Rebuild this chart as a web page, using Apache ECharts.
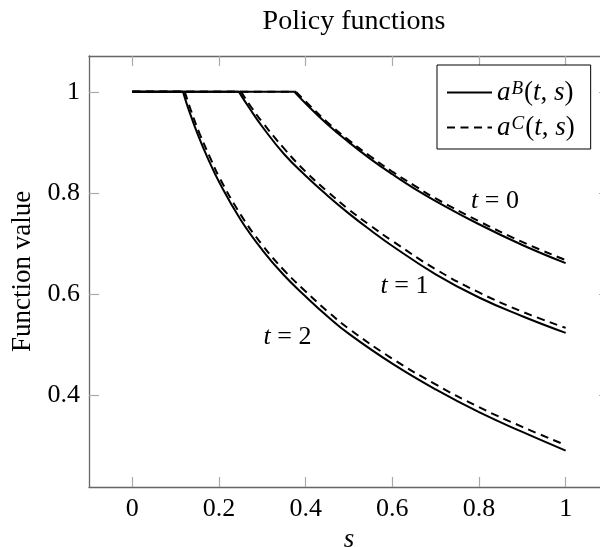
<!DOCTYPE html>
<html><head><meta charset="utf-8">
<script src="https://cdn.jsdelivr.net/npm/echarts@6/dist/echarts.min.js"></script>
<style>html,body{margin:0;padding:0;background:#fff}#c{width:600px;height:547px}</style>
</head><body><div id="c"></div>
<script>
// ---- data ----
const xTicks = [0, 0.2, 0.4, 0.6, 0.8, 1];
const yTicks = [0.4, 0.6, 0.8, 1];

// a^B(t,s) : solid
const sB_t0 = [0, 0.374, 0.4, 0.45, 0.5, 0.55, 0.6, 0.65, 0.7, 0.8, 0.9, 1.0];
const aB_t0 = [1, 1.000, 0.977, 0.936, 0.900, 0.867, 0.837, 0.809, 0.784, 0.738, 0.697, 0.661];
const sB_t1 = [0, 0.246, 0.27, 0.3, 0.35, 0.4, 0.45, 0.5, 0.55, 0.6, 0.7, 0.8, 0.9, 1.0];
const aB_t1 = [1, 1.000, 0.968, 0.931, 0.877, 0.834, 0.795, 0.759, 0.726, 0.695, 0.639, 0.593, 0.556, 0.523];
const sB_t2 = [0, 0.117, 0.13, 0.15, 0.175, 0.2, 0.25, 0.3, 0.35, 0.4, 0.45, 0.5, 0.6, 0.7, 0.8, 0.9, 1.0];
const aB_t2 = [1, 1.000, 0.965, 0.918, 0.867, 0.822, 0.747, 0.687, 0.637, 0.595, 0.556, 0.521, 0.462, 0.411, 0.366, 0.327, 0.290];

// a^C(t,s) : dashed
const sC_t0 = [0, 0.378, 0.4, 0.45, 0.5, 0.55, 0.6, 0.65, 0.7, 0.8, 0.9, 1.0];
const aC_t0 = [1, 1.000, 0.981, 0.940, 0.904, 0.872, 0.842, 0.815, 0.789, 0.744, 0.703, 0.667];
const sC_t1 = [0, 0.251, 0.275, 0.3, 0.35, 0.4, 0.45, 0.5, 0.55, 0.6, 0.7, 0.8, 0.9, 1.0];
const aC_t1 = [1, 1.000, 0.969, 0.940, 0.888, 0.842, 0.803, 0.767, 0.735, 0.705, 0.649, 0.603, 0.565, 0.533];
const sC_t2 = [0, 0.121, 0.135, 0.155, 0.18, 0.2, 0.25, 0.3, 0.35, 0.4, 0.45, 0.5, 0.6, 0.7, 0.8, 0.9, 1.0];
const aC_t2 = [1, 1.000, 0.964, 0.918, 0.869, 0.832, 0.757, 0.697, 0.647, 0.605, 0.566, 0.531, 0.472, 0.421, 0.376, 0.337, 0.301];

// curve annotations
const annT = [0, 1, 2];
const annS = [0.837, 0.628, 0.358];
const annV = [0.783, 0.6145, 0.514];

// ---- chart ----
const FONT = 'Liberation Serif';
const FS = 26;

function build(name, s, a, dashed) {
  const pts = s.map((x, i) => [x, a[i]]);
  const ls = {color: '#000', width: 2, type: dashed ? [8, 5.5] : 'solid'};
  const common = {type: 'line', name: name, symbol: 'none', showSymbol: false,
    lineStyle: ls, itemStyle: {color: '#000'}, silent: true, animation: false, z: dashed ? 3 : 4};
  return [
    Object.assign({}, common, {data: pts.slice(1), smooth: 0.45}),
    Object.assign({}, common, {data: pts.slice(0, 2), smooth: false})
  ];
}

const series = [].concat(
  build('aB', sB_t0, aB_t0, false),
  build('aC', sC_t0, aC_t0, true),
  build('aB', sB_t1, aB_t1, false),
  build('aC', sC_t1, aC_t1, true),
  build('aB', sB_t2, aB_t2, false),
  build('aC', sC_t2, aC_t2, true)
);
series.push({
  type: 'scatter', name: 'ann', symbolSize: 0, silent: true, animation: false, z: 10,
  itemStyle: {opacity: 1},
  data: annS.map((x, i) => [x, annV[i]]),
  label: {show: true, position: 'inside', color: '#000', opacity: 1,
    formatter: p => '{i|t}{n| = ' + annT[p.dataIndex] + '}',
    rich: {i: {fontFamily: FONT, fontSize: FS, fontStyle: 'italic', color: '#000'},
           n: {fontFamily: FONT, fontSize: FS, color: '#000'}}}
});

const frame = {show: true, onZero: false, lineStyle: {color: '#666', width: 1.3}};
const tick = {show: true, inside: true, length: 10, lineStyle: {color: '#aaa', width: 1.2}};

const option = {
  backgroundColor: '#fff',
  animation: false,
  title: {text: 'Policy functions', left: 349, top: 3, textAlign: 'center',
    textStyle: {fontFamily: FONT, fontSize: 28, fontWeight: 'normal', color: '#000'}},
  grid: {left: 89, top: 56, width: 520, height: 431, containLabel: false, outerBoundsMode: 'none'},
  legend: {
    data: ['aB', 'aC'], orient: 'vertical', left: 437, top: 65,
    backgroundColor: '#fff', borderColor: '#000', borderWidth: 1,
    padding: [14, 16, 8, 9], itemGap: 8, itemWidth: 45, itemHeight: 14, itemTextGap: 6,
    selectedMode: false,
    itemStyle: {color: 'rgba(0,0,0,0)', borderColor: 'rgba(0,0,0,0)', borderWidth: 0, opacity: 0},
    formatter: n => '{i|a}{sup|' + n.slice(1) + '}{n|(}{i|t}{n|, }{i|s}{n|)}',
    textStyle: {fontFamily: FONT, fontSize: 27, color: '#000',
      rich: {
        i: {fontFamily: FONT, fontSize: 27, fontStyle: 'italic', color: '#000', lineHeight: 27},
        n: {fontFamily: FONT, fontSize: 27, color: '#000', lineHeight: 27},
        sup: {fontFamily: FONT, fontSize: 19, fontStyle: 'italic', color: '#000', verticalAlign: 'top', padding: [0, 1, 0, 1]}
      }}
  },
  xAxis: [{
    type: 'value', min: -0.1, max: 1.1, position: 'bottom',
    name: 's', nameLocation: 'middle', nameGap: 36,
    nameTextStyle: {fontFamily: FONT, fontSize: FS + 1, fontStyle: 'italic', color: '#000'},
    axisLine: frame,
    axisTick: Object.assign({customValues: xTicks}, tick),
    axisLabel: {customValues: xTicks, formatter: v => String(+v.toFixed(1)), margin: 9,
      fontFamily: FONT, fontSize: FS, color: '#000'},
    splitLine: {show: false}
  }, {
    type: 'value', min: -0.1, max: 1.1, position: 'top',
    axisLine: frame,
    axisTick: Object.assign({customValues: xTicks}, tick),
    axisLabel: {show: false}, splitLine: {show: false}
  }],
  yAxis: [{
    type: 'value', min: 0.218, max: 1.071, position: 'left',
    name: 'Function value', nameLocation: 'middle', nameGap: 53, nameRotate: 90,
    nameTextStyle: {fontFamily: FONT, fontSize: FS + 1, color: '#000'},
    axisLine: frame,
    axisTick: Object.assign({customValues: yTicks}, tick),
    axisLabel: {customValues: yTicks, formatter: v => String(+v.toFixed(1)), margin: 9,
      fontFamily: FONT, fontSize: FS, color: '#000'},
    splitLine: {show: false}
  }, {
    type: 'value', min: 0.218, max: 1.071, position: 'right',
    axisLine: frame,
    axisTick: Object.assign({customValues: yTicks}, tick),
    axisLabel: {show: false}, splitLine: {show: false}
  }],
  series: series
};

const chart = echarts.init(document.getElementById('c'), null, {renderer: 'canvas'});
chart.setOption(option);
</script>
</body></html>
